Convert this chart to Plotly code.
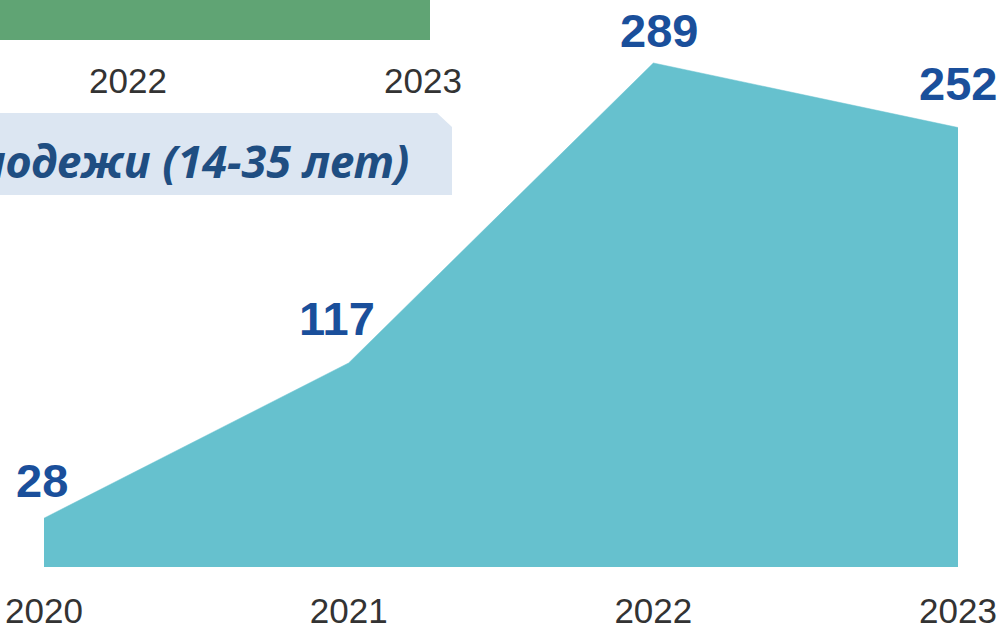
import plotly.graph_objects as go

# ---- data ----
years = [2020, 2021, 2022, 2023]
year_labels = ["2020", "2021", "2022", "2023"]
values = [28, 117, 289, 252]
value_labels = ["28", "117", "289", "252"]
top_chart_years = ["2022", "2023"]
banner_text = "молодежи (14-35 лет)"

W, H = 1002, 623
PLOT_BOTTOM = 567  # px


def px_x(px):
    return px / W


def px_y(py):
    return (PLOT_BOTTOM - py) / PLOT_BOTTOM


fig = go.Figure()
fig.add_trace(go.Scatter(
    x=years, y=values, mode="lines", fill="tozeroy",
    fillcolor="#66c1ce", line=dict(color="#66c1ce", width=0.5),
    hoverinfo="skip", showlegend=False,
))

# data labels
label_shift_x = [-2, -12, 6, 0]
label_shift_y = [38, 44, 32, 44]
for xv, yv, t, sx, sy in zip(years, values, value_labels, label_shift_x, label_shift_y):
    fig.add_annotation(
        x=xv, y=yv, text=f"<b>{t}</b>", showarrow=False,
        xshift=sx, yshift=sy, xref="x", yref="y",
        font=dict(family="Liberation Sans, Arial", size=47, color="#1a4f9b"),
    )

shapes = []
# green bar of the (cropped) chart above
shapes.append(dict(type="rect", xref="paper", yref="paper",
                   x0=px_x(-5), x1=px_x(430), y0=px_y(40), y1=px_y(-5),
                   fillcolor="#60a474", line=dict(width=0), layer="above"))
# banner with chamfered top-right corner
bx = [-5, 437, 452, 452, -5]
by = [113, 113, 127, 195, 195]
path = "M " + " L ".join(f"{px_x(a):.5f},{px_y(b):.5f}" for a, b in zip(bx, by)) + " Z"
shapes.append(dict(type="path", xref="paper", yref="paper", path=path,
                   fillcolor="#dce6f2", line=dict(width=0), layer="above"))
fig.update_layout(shapes=shapes)

# tick labels of the cropped chart above
for t, cx in zip(top_chart_years, [128, 423]):
    fig.add_annotation(x=px_x(cx), y=px_y(80), xref="paper", yref="paper",
                       text=t, showarrow=False, xanchor="center", yanchor="middle",
                       font=dict(family="Liberation Sans, Arial", size=35, color="#333333"))

# banner title
fig.add_annotation(x=px_x(411), y=px_y(160), xref="paper", yref="paper",
                   text=f"<b><i>{banner_text}</i></b>", showarrow=False,
                   xanchor="right", yanchor="middle",
                   font=dict(family="Noto Sans", size=45, color="#1f4e82"))

fig.update_xaxes(
    range=[2020 - 44 / 304.7, 2023 + 44 / 304.7],
    tickvals=years, ticktext=year_labels,
    showgrid=False, zeroline=False, showline=False,
    ticks="", ticklabelstandoff=20, automargin=False,
    tickfont=dict(family="Liberation Sans, Arial", size=35, color="#333333"),
)
fig.update_yaxes(range=[0, PLOT_BOTTOM / 1.744], visible=False, showgrid=False,
                 automargin=False)

fig.update_layout(
    width=W, height=H,
    margin=dict(l=0, r=0, t=0, b=H - PLOT_BOTTOM, pad=0, autoexpand=False),
    paper_bgcolor="white", plot_bgcolor="white",
    showlegend=False,
)

fig.write_html("out.html", post_script="document.body.style.margin='0px';",
               config={"displayModeBar": False})
